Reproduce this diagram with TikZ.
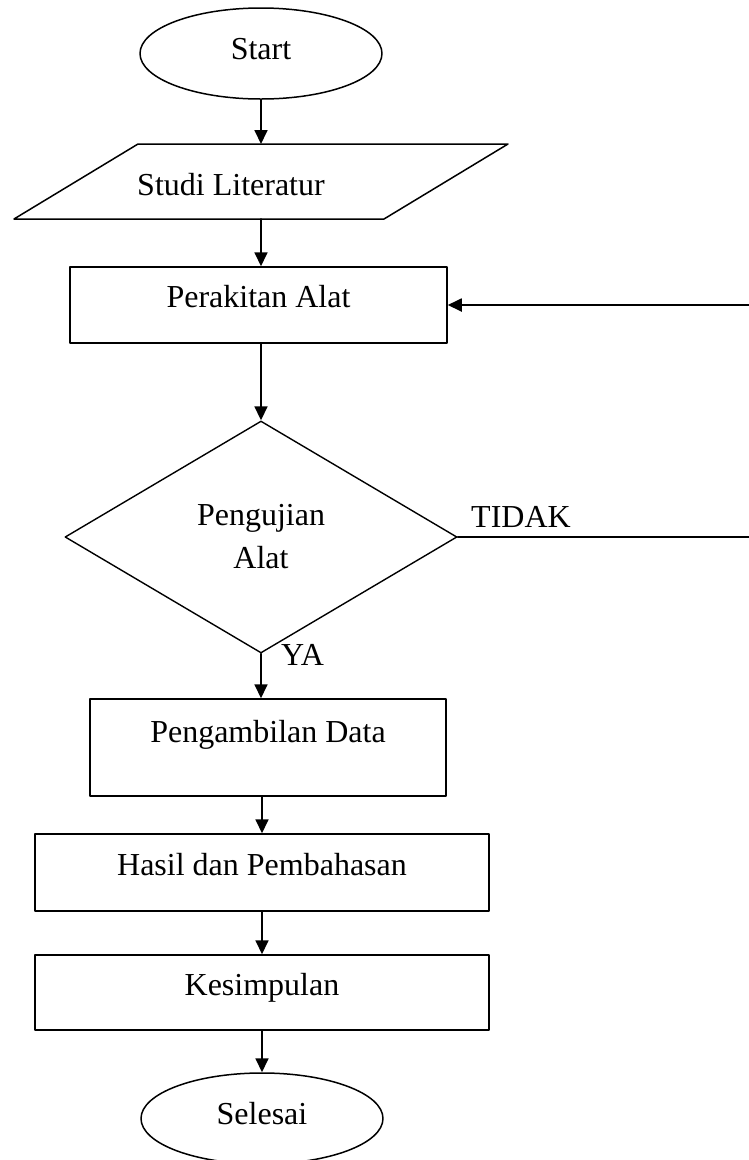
\documentclass[tikz,border=0pt]{standalone}
\usepackage{fontspec}
\setmainfont{Liberation Serif}
\usetikzlibrary{shapes.geometric, arrows.meta, positioning}

\tikzset{
  teks/.style={font=\fontsize{32}{43}\selectfont},
  terminal/.style={teks, draw, line width=1.5pt, ellipse, minimum width=242pt, minimum height=91pt, text height=22pt, text depth=11pt},
  proses/.style={teks, draw, line width=1.5pt, rectangle, inner sep=0pt, text height=22pt, text depth=17pt},
  keputusan/.style={teks, draw, line width=1.4pt, diamond, inner sep=0pt, minimum width=392pt, minimum height=232pt, align=center},
  panah/.style={line width=1.8pt, -{Triangle[length=14pt,width=13pt]}},
}

\begin{document}
\begin{tikzpicture}[x=1pt, y=-1pt, line join=round, line cap=round]
  \useasboundingbox (0,0) rectangle (748,1160);

  % alur utama
  \node[terminal] (start) at (261,53.5) {Start};
  \node[inner sep=0pt, outer sep=0pt, minimum width=370pt, minimum height=75pt] (studi) at (261,181.5) {};
  \draw[line width=1.5pt] ([xshift=62pt]studi.north west) -- ([xshift=62pt]studi.north east)
    -- ([xshift=-62pt]studi.south east) -- ([xshift=-62pt]studi.south west) -- cycle;
  \node[teks, anchor=base] (studilbl) at (231,195) {Studi Literatur};
  \node[proses, minimum width=377pt, minimum height=76pt] (rakit) at (258.5,305) {Perakitan Alat};
  \node[keputusan] (uji) at (261,537) {Pengujian\\Alat};
  \node[proses, minimum width=356pt, minimum height=97pt, text depth=33pt] (ambil) at (268,747.5) {Pengambilan Data};
  \node[proses, minimum width=454pt, minimum height=77pt] (hasil) at (262,872.5) {Hasil dan Pembahasan};
  \node[proses, minimum width=454pt, minimum height=75pt] (simpul) at (262,992.5) {Kesimpulan};
  \node[terminal] (selesai) at (262,1118.5) {Selesai};

  % label cabang
  \node[teks, anchor=base] (tidak) at (521,527) {TIDAK};
  \node[teks, anchor=base] (ya) at (302.5,665) {YA};

  \coordinate (tepi) at (751,0);

  % panah
  \draw[panah] (start) -- (studi);
  \draw[panah] (studi.south) -- (studi.south |- rakit.north);
  \draw[panah] (rakit.south -| uji.north) -- (uji.north);
  \draw[panah] (uji.south) -- (uji.south |- ambil.north);
  \draw[panah] (ambil.south -| hasil.north) -- (hasil.north);
  \draw[panah] (hasil) -- (simpul);
  \draw[panah] (simpul.south) -- (simpul.south |- selesai.north);

  % kembali ke perakitan
  \draw[panah] (uji.east) -- (uji.east -| tepi) |- (rakit.east);
\end{tikzpicture}
\end{document}
